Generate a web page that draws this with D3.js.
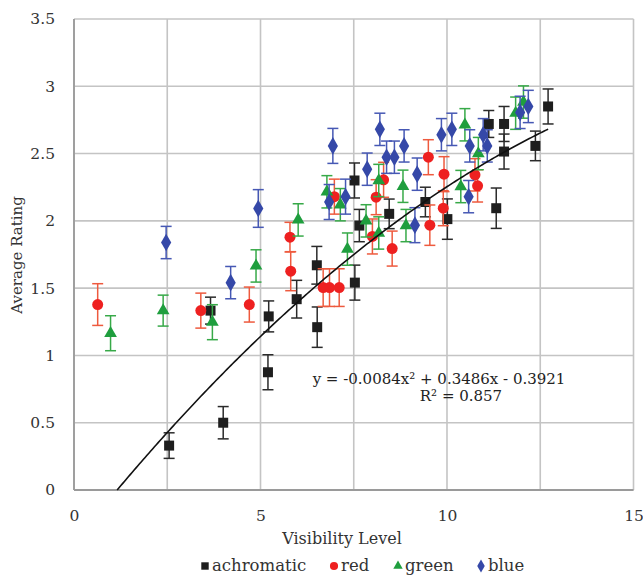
<!DOCTYPE html>
<html><head><meta charset="utf-8">
<script src="https://cdn.jsdelivr.net/npm/d3@7"></script>
<style>body{margin:0;background:#fff;}svg{display:block;}</style>
</head><body><div id="chart"></div>
<script>
const seriesNames = ["achromatic", "red", "green", "blue"];
const xTicks = [0, 5, 10, 15];
const yTicks = [0, 0.5, 1, 1.5, 2, 2.5, 3, 3.5];
const xGrid = [0, 2.5, 5, 7.5, 10, 12.5, 15];

const achromaticX = [2.55, 4.0, 3.66, 5.20, 5.22, 5.97, 6.51, 6.52, 7.53, 7.52, 7.65, 8.45, 9.42, 10.01, 11.12, 11.32, 11.53, 11.53, 12.37, 12.71];
const achromaticY = [0.33, 0.50, 1.333, 0.875, 1.29, 1.418, 1.67, 1.21, 1.541, 2.30, 1.965, 2.052, 2.14, 2.013, 2.72, 2.094, 2.72, 2.515, 2.557, 2.85];
const achromaticErr = [0.095, 0.12, 0.10, 0.13, 0.115, 0.14, 0.14, 0.15, 0.13, 0.13, 0.12, 0.11, 0.11, 0.15, 0.10, 0.15, 0.13, 0.13, 0.11, 0.13];

const redX = [0.635, 3.40, 4.70, 5.79, 5.81, 6.68, 6.85, 7.11, 6.98, 8.0, 8.10, 8.30, 8.53, 9.50, 9.54, 9.90, 9.92, 10.75, 10.82];
const redY = [1.378, 1.333, 1.378, 1.879, 1.626, 1.504, 1.504, 1.504, 2.18, 1.884, 2.176, 2.305, 1.794, 2.473, 1.968, 2.094, 2.347, 2.342, 2.26];
const redErr = [0.155, 0.13, 0.13, 0.11, 0.145, 0.14, 0.14, 0.14, 0.13, 0.13, 0.13, 0.13, 0.13, 0.13, 0.15, 0.13, 0.13, 0.12, 0.12];

const greenX = [0.98, 2.39, 3.71, 4.88, 6.01, 6.78, 7.14, 7.33, 7.83, 8.17, 8.17, 8.82, 8.9, 10.37, 10.48, 10.84, 11.84, 12.05];
const greenY = [1.165, 1.333, 1.247, 1.665, 2.007, 2.216, 2.12, 1.79, 2.0, 1.91, 2.30, 2.257, 1.965, 2.255, 2.714, 2.50, 2.80, 2.883];
const greenErr = [0.13, 0.115, 0.13, 0.12, 0.12, 0.12, 0.12, 0.12, 0.12, 0.12, 0.12, 0.12, 0.12, 0.12, 0.12, 0.12, 0.12, 0.12];

const blueX = [2.47, 4.20, 4.94, 6.84, 6.94, 7.28, 7.86, 8.20, 8.38, 8.59, 8.85, 9.14, 9.20, 9.85, 10.13, 10.58, 10.61, 10.97, 11.08, 11.96, 12.18];
const blueY = [1.839, 1.541, 2.092, 2.14, 2.557, 2.18, 2.384, 2.68, 2.473, 2.473, 2.557, 1.968, 2.347, 2.64, 2.68, 2.18, 2.557, 2.64, 2.557, 2.806, 2.85];
const blueErr = [0.12, 0.12, 0.14, 0.13, 0.13, 0.13, 0.12, 0.12, 0.12, 0.12, 0.12, 0.13, 0.12, 0.12, 0.12, 0.12, 0.12, 0.12, 0.12, 0.12, 0.12];

// trendline coefficients shown on the chart: y = a x^2 + b x + c
const trendCoef = [-0.0084, 0.3486, -0.3921];
const trendRange = [1.157, 12.71];
const equationText = "y = -0.0084x² + 0.3486x - 0.3921";
const r2Text = "R² = 0.857";

const W = 643, H = 576;
const m = {left: 74, right: 10, top: 19, bottom: 86};
const svg = d3.select("#chart").append("svg").attr("width", W).attr("height", H);
const x = d3.scaleLinear().domain([0, 15]).range([m.left, 633.5]);
const y = d3.scaleLinear().domain([0, 3.5]).range([490, m.top]);
const font = "'DejaVu Serif', serif";

// grid
svg.append("g").selectAll("line").data(xGrid).join("line")
  .attr("x1", d => x(d)).attr("x2", d => x(d)).attr("y1", y(0)).attr("y2", y(3.5))
  .attr("stroke", "#c4c4c4").attr("stroke-width", 1.6);
svg.append("g").selectAll("line").data(yTicks).join("line")
  .attr("x1", x(0)).attr("x2", x(15)).attr("y1", d => y(d)).attr("y2", d => y(d))
  .attr("stroke", "#c4c4c4").attr("stroke-width", 1.6);
// axes lines
svg.append("line").attr("x1", x(0)).attr("x2", x(0)).attr("y1", y(0)).attr("y2", y(3.5)).attr("stroke", "#9a9a9a").attr("stroke-width", 1.8);
svg.append("line").attr("x1", x(0)).attr("x2", x(15)).attr("y1", y(0)).attr("y2", y(0)).attr("stroke", "#9a9a9a").attr("stroke-width", 1.8);

// axis labels via d3 axes
const xAxis = d3.axisBottom(x).tickValues(xTicks).tickSize(0).tickPadding(20).tickFormat(d3.format("d"));
const gx = svg.append("g").attr("transform", `translate(0,${y(0)})`).call(xAxis);
gx.select(".domain").remove();
gx.selectAll("text").attr("font-family", font).attr("font-size", 15.5).attr("fill", "#333");
const yAxis = d3.axisLeft(y).tickValues(yTicks).tickSize(0).tickPadding(19).tickFormat(d => d === 0 ? "0" : d3.format("")(d));
const gy = svg.append("g").attr("transform", `translate(${x(0)},0)`).call(yAxis);
gy.select(".domain").remove();
gy.selectAll("text").attr("font-family", font).attr("font-size", 15.5).attr("fill", "#333");

svg.append("text").attr("x", 342).attr("y", 544).attr("text-anchor", "middle")
  .attr("font-family", font).attr("font-size", 16).attr("fill", "#333").text("Visibility Level");
svg.append("text").attr("transform", "translate(22,255) rotate(-90)").attr("text-anchor", "middle")
  .attr("font-family", font).attr("font-size", 15).attr("fill", "#333").text("Average Rating");

const series = [
  {name: seriesNames[0], xs: achromaticX, ys: achromaticY, es: achromaticErr, fill: "#1e1e1e", bar: "#2a2a2a", shape: d3.symbolSquare, size: 100},
  {name: seriesNames[1], xs: redX, ys: redY, es: redErr, fill: "#ee2020", bar: "#ee5a3e", shape: d3.symbolCircle, size: 95},
  {name: seriesNames[2], xs: greenX, ys: greenY, es: greenErr, fill: "#1f9e3e", bar: "#37a948", shape: d3.symbolTriangle, size: 70},
  {name: seriesNames[3], xs: blueX, ys: blueY, es: blueErr, fill: "#3548a8", bar: "#4658b4", shape: d3.symbolDiamond, size: 90}
];

series.forEach(s => {
  const pts = s.xs.map((v, i) => ({x: v, y: s.ys[i], e: s.es[i]}));
  const g = svg.append("g");
  const eb = g.append("g").attr("stroke", s.bar).attr("stroke-width", 1.5);
  pts.forEach(p => {
    eb.append("line").attr("x1", x(p.x)).attr("x2", x(p.x)).attr("y1", y(p.y - p.e)).attr("y2", y(p.y + p.e));
    eb.append("line").attr("x1", x(p.x) - 5.5).attr("x2", x(p.x) + 5.5).attr("y1", y(p.y - p.e)).attr("y2", y(p.y - p.e));
    eb.append("line").attr("x1", x(p.x) - 5.5).attr("x2", x(p.x) + 5.5).attr("y1", y(p.y + p.e)).attr("y2", y(p.y + p.e));
  });
  g.append("g").selectAll("path").data(pts).join("path")
    .attr("transform", p => `translate(${x(p.x)},${y(p.y)})`)
    .attr("d", d3.symbol().type(s.shape).size(s.size)).attr("fill", s.fill);
});

// trendline
const tx = d3.range(trendRange[0], trendRange[1], 0.05).concat([trendRange[1]]);
const line = d3.line().x(d => x(d)).y(d => y(trendCoef[0]*d*d + trendCoef[1]*d + trendCoef[2]));
svg.append("path").datum(tx).attr("d", line).attr("fill", "none").attr("stroke", "#111").attr("stroke-width", 1.6);

svg.append("text").attr("x", 439).attr("y", 384).attr("text-anchor", "middle")
  .attr("font-family", font).attr("font-size", 15).attr("fill", "#222").text(equationText);
svg.append("text").attr("x", 461).attr("y", 401).attr("text-anchor", "middle")
  .attr("font-family", font).attr("font-size", 15).attr("fill", "#222").text(r2Text);

// legend
const legendX = [205, 334, 398, 481];
const lg = svg.append("g");
series.forEach((s, i) => {
  lg.append("path").attr("transform", `translate(${legendX[i]},566)`)
    .attr("d", d3.symbol().type(s.shape).size(s.size * 0.55)).attr("fill", s.fill);
  lg.append("text").attr("x", legendX[i] + 7).attr("y", 571)
    .attr("font-family", font).attr("font-size", 16.5).attr("fill", "#333").text(s.name);
});
</script></body></html>
